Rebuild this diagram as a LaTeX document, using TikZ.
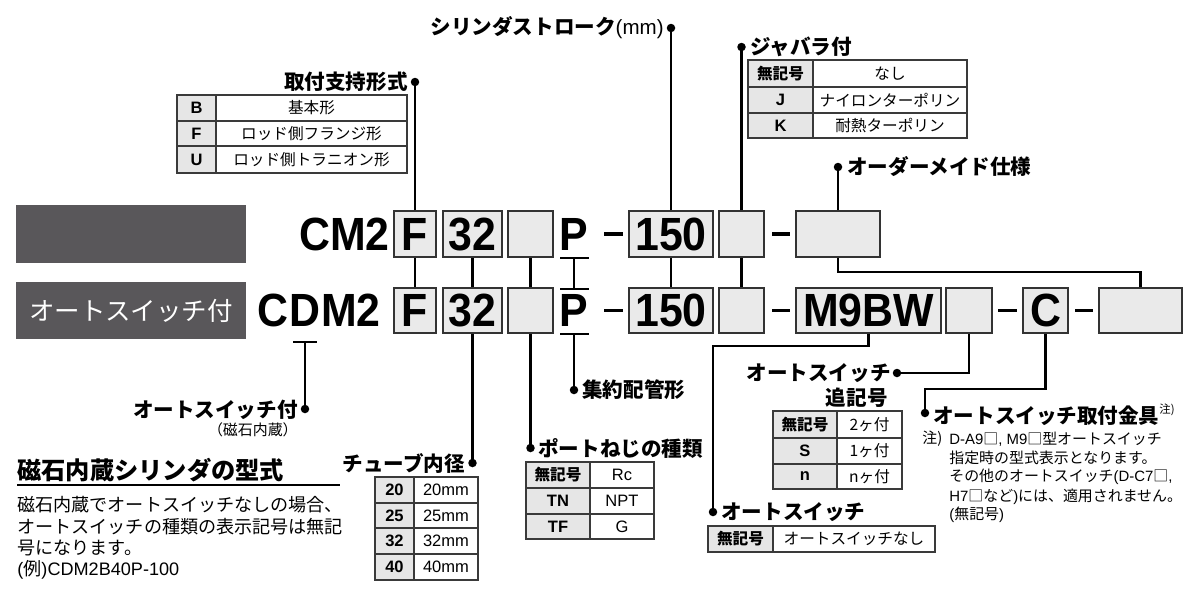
\documentclass[tikz,border=0pt]{standalone}
\usepackage{fontspec}
\setmainfont{Noto Sans CJK JP}
\newfontfamily\lat{Liberation Sans}
\newfontfamily\codelat{Liberation Sans}[FakeStretch=0.92]
\definecolor{darkbox}{HTML}{59575A}
\definecolor{boxfill}{HTML}{EAEAEA}
\definecolor{cellgray}{HTML}{E6E6E6}
\definecolor{tabline}{HTML}{3A3A3A}
\newcommand\fTitle{\bfseries\fontsize{11.7pt}{13pt}\selectfont}
\newcommand\fHead{\bfseries\fontsize{13.8pt}{15pt}\selectfont}
\newcommand\fCell{\fontsize{8.9pt}{10pt}\selectfont}
\newcommand\fCB{\bfseries\fontsize{8.9pt}{10pt}\selectfont}
\newcommand\fLB{\lat\bfseries\fontsize{9.4pt}{10pt}\selectfont}
\newcommand\fLR{\lat\fontsize{9.4pt}{10pt}\selectfont}
\newcommand\fNote{\fontsize{8.5pt}{10pt}\selectfont}
\newcommand\fPara{\fontsize{10.3pt}{12pt}\selectfont}
\newcommand\fSmall{\fontsize{8.5pt}{9pt}\selectfont}
\newcommand\fCode{\codelat\bfseries\fontsize{26.5pt}{28pt}\selectfont}
\newcommand\fHdr{\fontsize{14.5pt}{16pt}\selectfont}
\newcommand\trow[8]{%
  \filldraw[tabl, fill=cellgray] (#1,#4) rectangle (#2,#5);
  \draw[tabl] (#2,#4) rectangle (#3,#5);
  \node[font=\fCell] (#8L) at ({(#1+#2)/2},{(#4+#5)/2}) {#6};
  \node[font=\fCell] (#8R) at ({(#2+#3)/2},{(#4+#5)/2}) {#7};
}
\tikzset{
  every node/.style={inner sep=0pt},
  cb/.style 2 args={draw=black!80, fill=boxfill, line width=1pt, minimum width=#1*0.02cm, minimum height=#2*0.02cm, font=\fCode},
  codetxt/.style={font=\fCode},
  dbox/.style 2 args={fill=darkbox, minimum width=#1*0.02cm, minimum height=#2*0.02cm},
  conn/.style={line width=1.15pt, black},
  dashln/.style={line width=1.9pt, black},
  tabl/.style={draw=tabline, line width=0.7pt},
  tabtop/.style={draw=tabline, line width=1.5pt},
  title/.style={font=\fTitle},
}
\newcommand\pdot[1]{\fill (#1) circle[radius=0.085cm];}
\begin{document}
\begin{tikzpicture}[x=0.02cm,y=-0.02cm]
\useasboundingbox (0,0) rectangle (1198,600);
% header boxes
\node[dbox={230}{58}] (hdr1) at (131,234) {};
\node[dbox={230}{57}, text=white, font=\fHdr] (hdr2) at (131,310.5) {オートスイッチ付};
% codes
\node[codetxt, anchor=east] (cm2) at (390,234) {CM2};
\node[codetxt] (cD) at (305,310.5) {D};
\node[codetxt, anchor=east] (cC) at (cD.west) {C};
\node[codetxt, anchor=west] (cM2) at (cD.east) {M2};
% top row
\node[cb={42}{46}] (tF) at (415,234) {F};
\node[cb={59}{46}] (t32) at (472.5,234) {32};
\node[cb={45}{46}] (tE1) at (530.5,234) {};
\node[codetxt] (tP) at (574,234) {P};
\node[cb={84}{46}] (t150) at (671,234) {150};
\node[cb={45}{46}] (tE2) at (741.5,234) {};
\node[cb={84}{46}] (tE3) at (838,234) {};
% bottom row
\node[cb={42}{45}] (bF) at (415,310.5) {F};
\node[cb={59}{45}] (b32) at (472.5,310.5) {32};
\node[cb={45}{45}] (bE1) at (530.5,310.5) {};
\node[codetxt] (bP) at (574,310.5) {P};
\node[cb={84}{45}] (b150) at (671,310.5) {150};
\node[cb={45}{45}] (bE2) at (741.5,310.5) {};
\node[cb={145}{45}] (bM) at (868.5,310.5) {M9BW};
\node[cb={46}{45}] (bE4) at (969,310.5) {};
\node[cb={45}{45}] (bC) at (1045.5,310.5) {C};
\node[cb={83}{45}] (bE5) at (1140.5,310.5) {};
% dashes
\draw[dashln] (604,234)--(623,234) (772,234)--(790,234);
\draw[dashln] (604,310.5)--(623,310.5) (772,310.5)--(790,310.5) (998,310.5)--(1017,310.5) (1075,310.5)--(1093,310.5);
% dots coordinates
\coordinate (dF) at (415,82);
\coordinate (d150) at (671,28);
\coordinate (dBel) at (741.5,47);
\coordinate (dOrd) at (838,167);
\coordinate (dTube) at (472.5,463);
\coordinate (dPort) at (530.5,448);
\coordinate (dPip) at (574,390);
\coordinate (dSw) at (305,409);
\coordinate (dAS) at (713,512);
\coordinate (dAdd) at (897,373);
\coordinate (dMount) at (925,413);
\coordinate (kM) at (868.5,346);
\coordinate (k3) at (838,272);
\coordinate (kC) at (1045.5,389);
\coordinate (pT) at (574,258);
\coordinate (pM) at (574,289);
\coordinate (pB) at (574,334);
\coordinate (dBar) at (305,342);
% connectors
\draw[conn] (tF.north) -- (dF);
\draw[conn] (tF.south) -- (bF.north);
\draw[conn] (t32.south) -- (b32.north);
\draw[conn] (b32.south) -- (dTube);
\draw[conn] (tE1.south) -- (bE1.north);
\draw[conn] (bE1.south) -- (dPort);
\draw[conn] (t150.north) -- (d150);
\draw[conn] (t150.south) -- (b150.north);
\draw[conn] (tE2.north) -- (dBel);
\draw[conn] (tE2.south) -- (bE2.north);
\draw[conn] (tE3.north) -- (dOrd);
\draw[conn] (tE3.south) -- (k3) -| (bE5.north);
\draw[conn] (bM.south) -- (kM) -| (dAS);
\draw[conn] (bE4.south) |- (dAdd);
\draw[conn] (bC.south) -- (kC) -| (dMount);
\draw[conn] (560,258) -- (589,258);
\draw[conn] (560,289) -- (589,289);
\draw[conn] (560,334) -- (589,334);
\draw[conn] (pT) -- (pM);
\draw[conn] (pB) -- (dPip);
\draw[conn] (293,342) -- (317,342);
\draw[conn] (dBar) -- (dSw);
\foreach \d in {dF,d150,dBel,dOrd,dTube,dPort,dPip,dSw,dAS,dAdd,dMount} {\pdot{\d}}
% labels
\node[title, anchor=east] (lF) at (408,82) {取付支持形式};
\node[title, anchor=east] (l150) at (664,28) {シリンダストローク{\lat\mdseries (mm)}};
\node[title, anchor=west] (lBel) at (750,47) {ジャバラ付};
\node[title, anchor=west] (lOrd) at (847,167) {オーダーメイド仕様};
\node[title, anchor=west] (lPip) at (582,390) {集約配管形};
\node[title, anchor=west] (lPort) at (538,448) {ポートねじの種類};
\node[title, anchor=east] (lTube) at (465,463) {チューブ内径};
\node[title, anchor=east] (lSw) at (298,410) {オートスイッチ付};
\node[font=\fSmall, anchor=east] (lSw2) at (298,430) {（磁石内蔵）};
\node[title, anchor=east] (lAdd) at (891,373) {オートスイッチ};
\node[title, anchor=east] (lAdd2) at (888,398) {追記号};
\node[title, anchor=west] (lAS) at (721,512) {オートスイッチ};
\node[anchor=west] (lMount) at (933,415) {{\fTitle オートスイッチ取付金具}\raisebox{0.55em}{\fontsize{6.5pt}{7pt}\selectfont 注)}};
% note
\node[font=\fNote, anchor=west] (n0) at (922,439) {注)};
\node[font=\fNote, anchor=west] (n1) at (949,439) {{\lat D-A9}□{\lat , M9}□型オートスイッチ};
\node[font=\fNote, anchor=west] (n2) at (949,458) {指定時の型式表示となります。};
\node[font=\fNote, anchor=west] (n3) at (949,477) {その他のオートスイッチ{\lat (D-C7}□{\lat ,}};
\node[font=\fNote, anchor=west] (n4) at (949,497) {{\lat H7}□など{\lat )}には、適用されません。};
\node[font=\fNote, anchor=west] (n5) at (949,515) {{\lat (}無記号{\lat )}};
% bottom-left paragraph
\node[font=\fHead, anchor=west] (hd) at (17,470) {磁石内蔵シリンダの型式};
\draw[line width=1.3pt] (17,485) -- (340,485);
\node[font=\fPara, anchor=west] (p1) at (17,505) {磁石内蔵でオートスイッチなしの場合、};
\node[font=\fPara, anchor=west] (p2) at (17,527) {オートスイッチの種類の表示記号は無記};
\node[font=\fPara, anchor=west] (p3) at (17,548) {号になります。};
\node[font=\fPara, anchor=west] (p4) at (17,570) {{\lat (}例{\lat )CDM2B40P-100}};
% tables
\trow{177}{216}{407}{95}{121}{\fLB B}{基本形}{a1}
\trow{177}{216}{407}{121}{146}{\fLB F}{ロッド側フランジ形}{a2}
\trow{177}{216}{407}{146}{173}{\fLB U}{ロッド側トラニオン形}{a3}
\draw[tabtop] (177,95) -- (407,95);
\trow{748}{813}{967}{60}{87}{\fCB 無記号}{なし}{b1}
\trow{748}{813}{967}{87}{113}{\fLB J}{ナイロンターポリン}{b2}
\trow{748}{813}{967}{113}{138}{\fLB K}{耐熱ターポリン}{b3}
\draw[tabtop] (748,60) -- (967,60);
\trow{375}{414}{478}{477}{503}{\fLB 20}{\fLR 20mm}{c1}
\trow{375}{414}{478}{503}{528}{\fLB 25}{\fLR 25mm}{c2}
\trow{375}{414}{478}{528}{554}{\fLB 32}{\fLR 32mm}{c3}
\trow{375}{414}{478}{554}{580}{\fLB 40}{\fLR 40mm}{c4}
\draw[tabtop] (375,477) -- (478,477);
\trow{526}{590}{654}{462}{488}{\fCB 無記号}{\fLR Rc}{e1}
\trow{526}{590}{654}{488}{514}{\fLB TN}{\fLR NPT}{e2}
\trow{526}{590}{654}{514}{539}{\fLB TF}{\fLR G}{e3}
\draw[tabtop] (526,462) -- (654,462);
\trow{773}{837}{902}{411}{438}{\fCB 無記号}{2ヶ付}{f1}
\trow{773}{837}{902}{438}{464}{\fLB S}{1ヶ付}{f2}
\trow{773}{837}{902}{464}{489}{\fLB n}{nヶ付}{f3}
\draw[tabtop] (773,411) -- (902,411);
\trow{708}{773}{935}{526}{552}{\fCB 無記号}{オートスイッチなし}{g1}
\draw[tabtop] (708,526) -- (935,526);
\end{tikzpicture}
\end{document}
